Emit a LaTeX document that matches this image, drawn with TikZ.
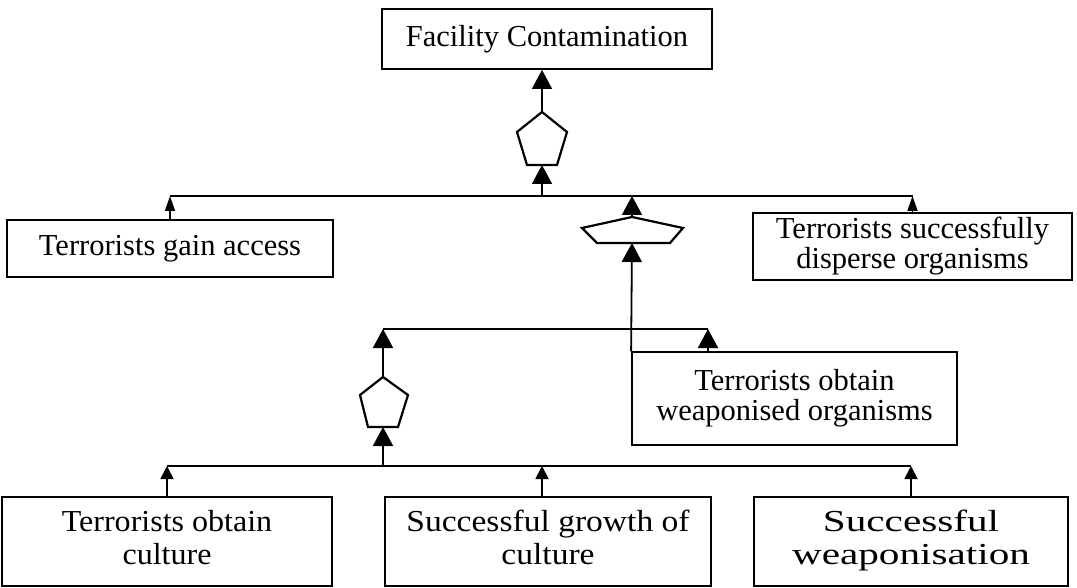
\documentclass[tikz,border=0pt]{standalone}
\usepackage{fontspec}
\setmainfont{Liberation Serif}
\usetikzlibrary{arrows.meta}
\newcommand{\widened}[2]{\scalebox{#1}[1]{\begin{tabular}{@{}c@{}}#2\end{tabular}}}
\tikzset{
  event/.style={draw, line width=1.8pt, align=center, inner sep=0pt,
    font=\fontsize{30.5}{30}\selectfont},
  basic/.style={event, minimum width=#1, minimum height=89pt,
    font=\fontsize{30.5}{33}\selectfont},
  wire/.style={line width=1.8pt},
  link/.style={wire, -{Triangle[length=19pt,width=20pt]}},
  short link/.style={wire, -{Triangle[length=13pt,width=13pt]}},
  narrow link/.style={wire, -{Triangle[length=15pt,width=10pt]}},
  gate/.style={line width=2.2pt, line join=miter},
}
\begin{document}
\begin{tikzpicture}[x=1pt,y=-1pt]
\useasboundingbox[fill=white] (0,0) rectangle (1077,588);
% events
\node[event, minimum width=330pt, minimum height=60pt] (top) at (547,39) {Facility Contamination};
\node[event, minimum width=326pt, minimum height=57pt] (access) at (170,248.5) {Terrorists gain access};
\node[event, minimum width=319pt, minimum height=67pt] (disperse) at (912.5,246.5) {Terrorists successfully\\disperse organisms};
\node[event, minimum width=325pt, minimum height=93pt] (weapon) at (794.5,398.5) {Terrorists obtain\\weaponised organisms};
\node[basic=330pt] (culture) at (167,541.5) {\widened{1.05}{Terrorists obtain\\culture}};
\node[basic=326pt] (growth) at (548,541.5) {\widened{1.1}{Successful growth of\\culture}};
\node[basic=314pt] (weaponisation) at (911,541.5) {\widened{1.35}{Successful\\weaponisation}};
% gates
\draw[gate] (542,112) -- (567,132) -- (557,165) -- (527,165) -- (517,132) -- cycle;
\draw[gate] (632,217) -- (683,228) -- (670,243) -- (597,243) -- (582,228) -- cycle;
\draw[gate] (383,377) -- (408,395) -- (398,427) -- (368,427) -- (360,395) -- cycle;
\coordinate (g1top) at (542,112);
\coordinate (g1bot) at (542,165);
\coordinate (g2top) at (632,217);
\coordinate (g2bot) at (632,243);
\coordinate (g3top) at (383,377);
\coordinate (g3bot) at (383,427);
% bus lines
\coordinate (bus1) at (542,196);
\coordinate (bus2) at (383,329);
\coordinate (bus3) at (383,466);
\coordinate (weapon out) at (708,352);
\coordinate (growth out) at (542,497);
\draw[wire] (access.north |- bus1) -- (disperse.north |- bus1);
\draw[wire] (bus2) -- (bus2 -| weapon out);
\draw[wire] (culture.north |- bus3) -- (weaponisation.north |- bus3);
% connectors
\draw[link] (g1top) -- (g1top |- top.south);
\draw[link] (bus1) -- (g1bot);
\draw[narrow link] (access.north) -- (access.north |- bus1);
\draw[narrow link] (disperse.north) -- (disperse.north |- bus1);
\draw[link] (g2top) -- (g2top |- bus1);
\draw[link] (weapon.north west) -- (g2bot);
\draw[link] (g3top) -- (bus2);
\draw[link] (weapon out) -- (weapon out |- bus2);
\draw[link] (bus3) -- (g3bot);
\draw[short link] (culture.north) -- (culture.north |- bus3);
\draw[short link] (growth out) -- (growth out |- bus3);
\draw[short link] (weaponisation.north) -- (weaponisation.north |- bus3);
\end{tikzpicture}
\end{document}
